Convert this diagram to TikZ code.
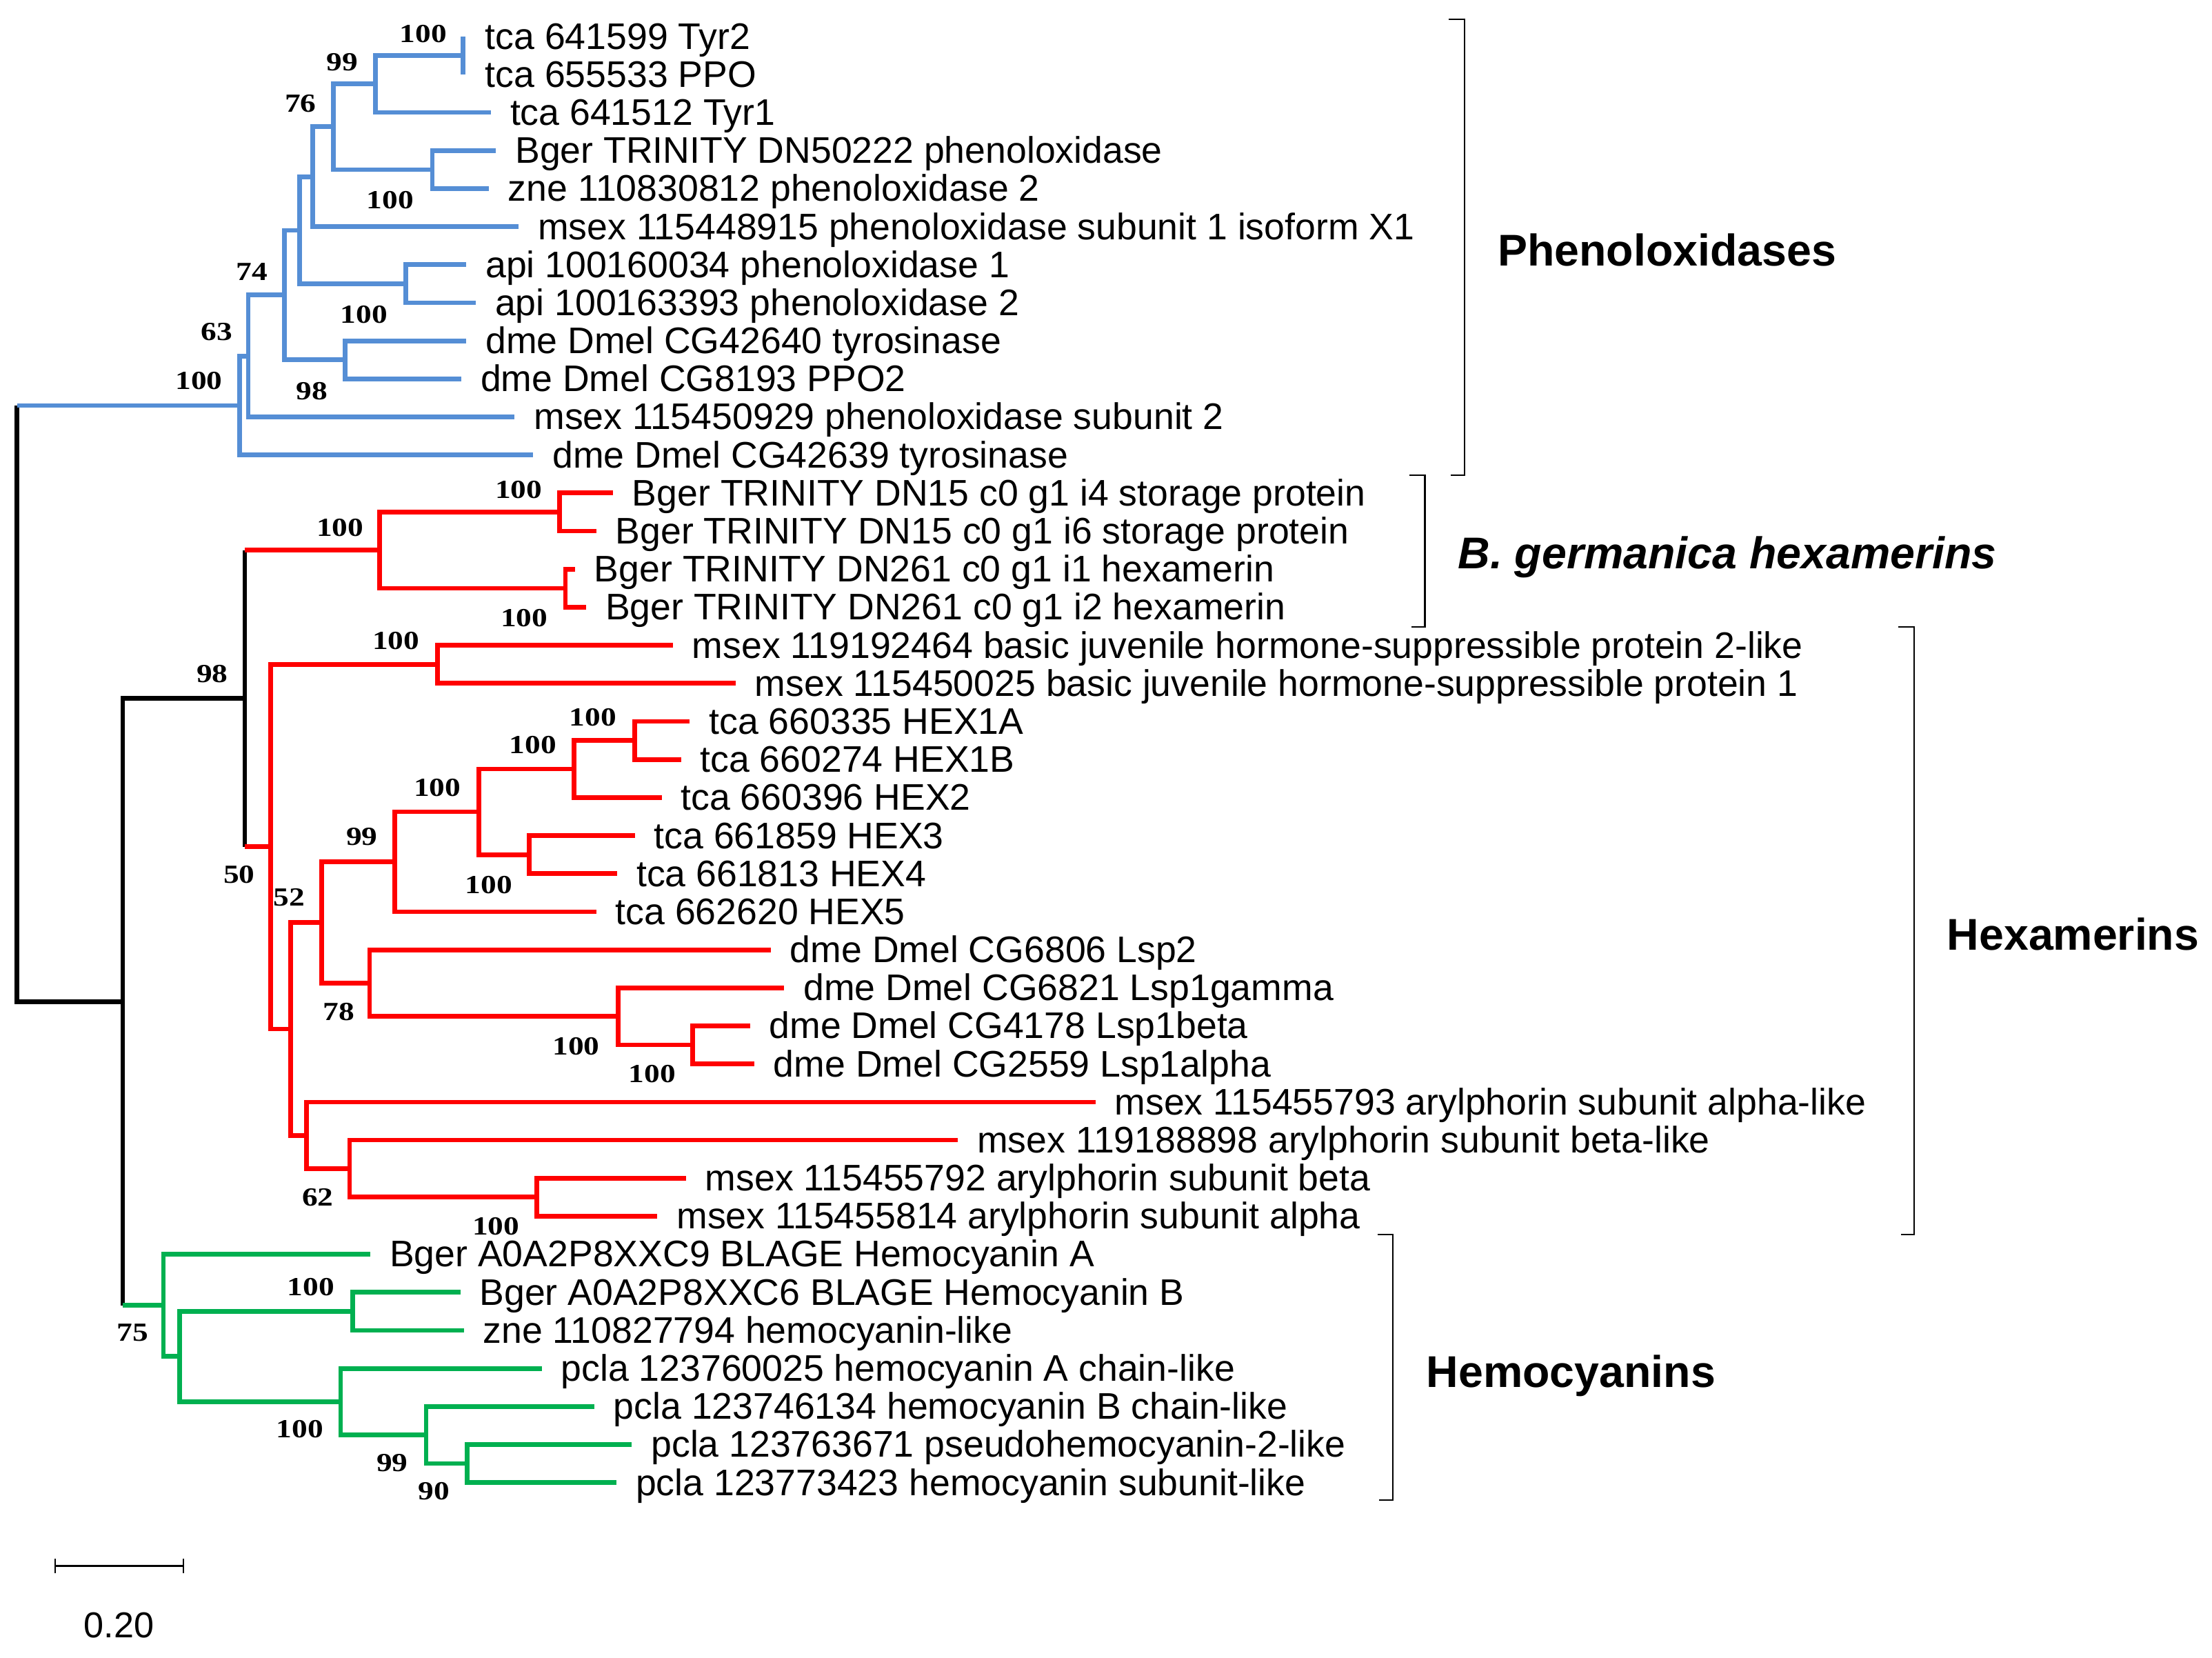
\documentclass[tikz,border=0pt]{standalone}
\usepackage{fontspec}
\setmainfont{Liberation Sans}
\newfontfamily\bsfont[FakeStretch=1.2]{Liberation Serif}
\definecolor{tblue}{RGB}{85,142,213}
\definecolor{tred}{RGB}{255,0,0}
\definecolor{tgreen}{RGB}{0,176,80}
\begin{document}
\begin{tikzpicture}[x=1pt,y=-1pt,
  br/.style={line width=3.3pt, line join=miter, line cap=butt},
  bb/.style={br,draw=tblue}, rb/.style={br,draw=tred}, gb/.style={br,draw=tgreen}, kb/.style={br,draw=black},
  lbl/.style={anchor=base west, inner sep=0pt, xshift=13.5pt, yshift=-9pt, font=\fontsize{26.2}{30}\selectfont},
  bs/.style={inner sep=0pt, font=\bsfont\bfseries\fontsize{18.5}{20}\selectfont},
  grp/.style={anchor=base west, inner sep=0pt, font=\bfseries\fontsize{31.5}{36}\selectfont},
  brk/.style={line width=1.1pt, line join=miter}]
\useasboundingbox (0,0) rectangle (1568,1175);

% ---------- tips ----------
\coordinate (t1) at (328.3,25.8);
\coordinate (t2) at (328.3,52.8);
\coordinate (t3) at (348,79.7);
\coordinate (t4) at (351.6,106.7);
\coordinate (t5) at (346.5,133.7);
\coordinate (t6) at (367.6,160.7);
\coordinate (t7) at (330.5,187.6);
\coordinate (t8) at (337.3,214.6);
\coordinate (t9) at (330.5,241.6);
\coordinate (t10) at (327,268.5);
\coordinate (t11) at (364.8,295.5);
\coordinate (t12) at (378,322.5);
\coordinate (t13) at (434.5,349.4);
\coordinate (t14) at (422.7,376.4);
\coordinate (t15) at (407.6,403.4);
\coordinate (t16) at (415.5,430.4);
\coordinate (t17) at (477,457.3);
\coordinate (t18) at (521.5,484.3);
\coordinate (t19) at (489,511.3);
\coordinate (t20) at (482.7,538.2);
\coordinate (t21) at (469,565.2);
\coordinate (t22) at (450,592.2);
\coordinate (t23) at (437.5,619.1);
\coordinate (t24) at (422.6,646.1);
\coordinate (t25) at (546.4,673.1);
\coordinate (t26) at (555.9,700.1);
\coordinate (t27) at (531.6,727.0);
\coordinate (t28) at (534.7,754.0);
\coordinate (t29) at (776.5,781.0);
\coordinate (t30) at (679,807.9);
\coordinate (t31) at (486.3,834.9);
\coordinate (t32) at (466,861.9);
\coordinate (t33) at (262.5,888.8);
\coordinate (t34) at (326.3,915.8);
\coordinate (t35) at (328.8,942.8);
\coordinate (t36) at (384,969.8);
\coordinate (t37) at (421.3,996.7);
\coordinate (t38) at (447.9,1023.7);
\coordinate (t39) at (437,1050.7);

% ---------- internal nodes ----------
\coordinate (nA) at (328.3,39.3);
\coordinate (nB) at (266,59.5);
\coordinate (nC) at (306.4,120.2);
\coordinate (nD) at (236.5,89.85);
\coordinate (nE) at (221.7,125.3);
\coordinate (nF) at (287.6,201.1);
\coordinate (nG) at (212.4,163.2);
\coordinate (nH) at (244.7,255.05);
\coordinate (nI) at (201.5,209.1);
\coordinate (nJ) at (176,252.3);
\coordinate (nK) at (170,287.4);
\coordinate (nL) at (396.5,362.9);
\coordinate (nM) at (400.8,416.9);
\coordinate (nN) at (269,389.9);
\coordinate (nO) at (310,470.8);
\coordinate (nP) at (450,524.75);
\coordinate (nQ) at (407,545);
\coordinate (nR) at (375.2,605.65);
\coordinate (nS) at (339.3,575.3);
\coordinate (nT) at (280,610.7);
\coordinate (nU) at (491,740.5);
\coordinate (nV) at (438,720.3);
\coordinate (nW) at (262,696.7);
\coordinate (nX) at (228,653.7);
\coordinate (nY) at (380.4,848.4);
\coordinate (nZ) at (247.8,828.2);
\coordinate (nAA) at (217.4,804.6);
\coordinate (nAB) at (206,729.2);
\coordinate (nAC) at (192,600);
\coordinate (nAD) at (173.5,494.95);
\coordinate (nAE) at (250,929.3);
\coordinate (nAF) at (331,1037.2);
\coordinate (nAG) at (302,1016.95);
\coordinate (nAH) at (241.5,993.4);
\coordinate (nAI) at (127.4,961.35);
\coordinate (nAJ) at (115.8,925.1);
\coordinate (nAK) at (87,710);
\coordinate (root) at (12,498.7);

% ---------- blue clade ----------
\draw[bb] (nA) -- (t1);
\draw[bb] (nA) -- (t2);
\draw[bb] (nB) |- (nA);
\draw[bb] (nB) |- (t3);
\draw[bb] (nC) |- (t4);
\draw[bb] (nC) |- (t5);
\draw[bb] (nD) |- (nB);
\draw[bb] (nD) |- (nC);
\draw[bb] (nE) |- (nD);
\draw[bb] (nE) |- (t6);
\draw[bb] (nF) |- (t7);
\draw[bb] (nF) |- (t8);
\draw[bb] (nG) |- (nE);
\draw[bb] (nG) |- (nF);
\draw[bb] (nH) |- (t9);
\draw[bb] (nH) |- (t10);
\draw[bb] (nI) |- (nG);
\draw[bb] (nI) |- (nH);
\draw[bb] (nJ) |- (nI);
\draw[bb] (nJ) |- (t11);
\draw[bb] (nK) |- (nJ);
\draw[bb] (nK) |- (t12);

% ---------- red clade ----------
\draw[rb] (nL) |- (t13);
\draw[rb] (nL) |- (t14);
\draw[rb] (nM) |- (t15);
\draw[rb] (nM) |- (t16);
\draw[rb] (nN) |- (nL);
\draw[rb] (nN) |- (nM);
\draw[rb] (nO) |- (t17);
\draw[rb] (nO) |- (t18);
\draw[rb] (nP) |- (t19);
\draw[rb] (nP) |- (t20);
\draw[rb] (nQ) |- (nP);
\draw[rb] (nQ) |- (t21);
\draw[rb] (nR) |- (t22);
\draw[rb] (nR) |- (t23);
\draw[rb] (nS) |- (nQ);
\draw[rb] (nS) |- (nR);
\draw[rb] (nT) |- (nS);
\draw[rb] (nT) |- (t24);
\draw[rb] (nU) |- (t27);
\draw[rb] (nU) |- (t28);
\draw[rb] (nV) |- (t26);
\draw[rb] (nV) |- (nU);
\draw[rb] (nW) |- (t25);
\draw[rb] (nW) |- (nV);
\draw[rb] (nX) |- (nT);
\draw[rb] (nX) |- (nW);
\draw[rb] (nY) |- (t31);
\draw[rb] (nY) |- (t32);
\draw[rb] (nZ) |- (t30);
\draw[rb] (nZ) |- (nY);
\draw[rb] (nAA) |- (t29);
\draw[rb] (nAA) |- (nZ);
\draw[rb] (nAB) |- (nX);
\draw[rb] (nAB) |- (nAA);
\draw[rb] (nAC) |- (nO);
\draw[rb] (nAC) |- (nAB);

% ---------- green clade ----------
\draw[gb] (nAE) |- (t34);
\draw[gb] (nAE) |- (t35);
\draw[gb] (nAF) |- (t38);
\draw[gb] (nAF) |- (t39);
\draw[gb] (nAG) |- (t37);
\draw[gb] (nAG) |- (nAF);
\draw[gb] (nAH) |- (t36);
\draw[gb] (nAH) |- (nAG);
\draw[gb] (nAI) |- (nAE);
\draw[gb] (nAI) |- (nAH);
\draw[gb] (nAJ) |- (t33);
\draw[gb] (nAJ) |- (nAI);

% ---------- backbone (black) ----------
\draw[kb] (nAD) -- (nAD |- nN);
\draw[rb] (nAD |- nN) -- (nN);
\draw[kb] (nAD) -- (nAD |- nAC);
\draw[rb] (nAD |- nAC) -- (nAC);
\draw[kb] (nAK) |- (nAD);
\draw[kb] (nAK) -- (nAK |- nAJ);
\draw[gb] (nAK |- nAJ) -- (nAJ);
\draw[kb] (root) -- (root |- nK);
\draw[bb] (root |- nK) -- (nK);
\draw[kb] (root) |- (nAK);

% ---------- tip labels ----------
\node[lbl] (L1) at ([xshift=2pt]t1) {tca 641599 Tyr2};
\node[lbl] (L2) at ([xshift=2pt]t2) {tca 655533 PPO};
\node[lbl] (L3) at (t3) {tca 641512 Tyr1};
\node[lbl] (L4) at (t4) {Bger TRINITY DN50222 phenoloxidase};
\node[lbl] (L5) at (t5) {zne 110830812 phenoloxidase 2};
\node[lbl] (L6) at (t6) {msex 115448915 phenoloxidase subunit 1 isoform X1};
\node[lbl] (L7) at (t7) {api 100160034 phenoloxidase 1};
\node[lbl] (L8) at (t8) {api 100163393 phenoloxidase 2};
\node[lbl] (L9) at (t9) {dme Dmel CG42640 tyrosinase};
\node[lbl] (L10) at (t10) {dme Dmel CG8193 PPO2};
\node[lbl] (L11) at (t11) {msex 115450929 phenoloxidase subunit 2};
\node[lbl] (L12) at (t12) {dme Dmel CG42639 tyrosinase};
\node[lbl] (L13) at (t13) {Bger TRINITY DN15 c0 g1 i4 storage protein};
\node[lbl] (L14) at (t14) {Bger TRINITY DN15 c0 g1 i6 storage protein};
\node[lbl] (L15) at (t15) {Bger TRINITY DN261 c0 g1 i1 hexamerin};
\node[lbl] (L16) at (t16) {Bger TRINITY DN261 c0 g1 i2 hexamerin};
\node[lbl] (L17) at (t17) {msex 119192464 basic juvenile hormone-suppressible protein 2-like};
\node[lbl] (L18) at (t18) {msex 115450025 basic juvenile hormone-suppressible protein 1};
\node[lbl] (L19) at (t19) {tca 660335 HEX1A};
\node[lbl] (L20) at (t20) {tca 660274 HEX1B};
\node[lbl] (L21) at (t21) {tca 660396 HEX2};
\node[lbl] (L22) at (t22) {tca 661859 HEX3};
\node[lbl] (L23) at (t23) {tca 661813 HEX4};
\node[lbl] (L24) at (t24) {tca 662620 HEX5};
\node[lbl] (L25) at (t25) {dme Dmel CG6806 Lsp2};
\node[lbl] (L26) at (t26) {dme Dmel CG6821 Lsp1gamma};
\node[lbl] (L27) at (t27) {dme Dmel CG4178 Lsp1beta};
\node[lbl] (L28) at (t28) {dme Dmel CG2559 Lsp1alpha};
\node[lbl] (L29) at (t29) {msex 115455793 arylphorin subunit alpha-like};
\node[lbl] (L30) at (t30) {msex 119188898 arylphorin subunit beta-like};
\node[lbl] (L31) at (t31) {msex 115455792 arylphorin subunit beta};
\node[lbl] (L32) at (t32) {msex 115455814 arylphorin subunit alpha};
\node[lbl] (L33) at (t33) {Bger A0A2P8XXC9 BLAGE Hemocyanin A};
\node[lbl] (L34) at (t34) {Bger A0A2P8XXC6 BLAGE Hemocyanin B};
\node[lbl] (L35) at (t35) {zne 110827794 hemocyanin-like};
\node[lbl] (L36) at (t36) {pcla 123760025 hemocyanin A chain-like};
\node[lbl] (L37) at (t37) {pcla 123746134 hemocyanin B chain-like};
\node[lbl] (L38) at (t38) {pcla 123763671 pseudohemocyanin-2-like};
\node[lbl] (L39) at (t39) {pcla 123773423 hemocyanin subunit-like};

% ---------- bootstrap values ----------
\node[bs] (bA) at (300,24) {100};
\node[bs] (bB) at (242.5,44) {99};
\node[bs] (bD) at (213,73.5) {76};
\node[bs] (bC) at (276.5,142) {100};
\node[bs] (bI) at (178.5,192.5) {74};
\node[bs] (bF) at (258,223) {100};
\node[bs] (bJ) at (153.5,235) {63};
\node[bs] (bH) at (221,277) {98};
\node[bs] (bK) at (141,270) {100};
\node[bs] (bL) at (367.6,347) {100};
\node[bs] (bN) at (241,374) {100};
\node[bs] (bM) at (371.5,438) {100};
\node[bs] (bO) at (280.6,454) {100};
\node[bs] (bAD) at (150.5,477.5) {98};
\node[bs] (bP) at (420.3,508.3) {100};
\node[bs] (bQ) at (377.7,528) {100};
\node[bs] (bS) at (310,558) {100};
\node[bs] (bT) at (256.6,593) {99};
\node[bs] (bR) at (346.5,627) {100};
\node[bs] (bAC) at (169.5,620) {50};
\node[bs] (bX) at (205,636) {52};
\node[bs] (bW) at (240,717) {78};
\node[bs] (bV) at (408.4,741.3) {100};
\node[bs] (bU) at (462.4,761) {100};
\node[bs] (bZ) at (225.3,848.5) {62};
\node[bs] (bY) at (351.5,869) {100};
\node[bs] (bAJ) at (94,944.6) {75};
\node[bs] (bAE) at (220.3,912) {100};
\node[bs] (bAH) at (212.5,1013) {100};
\node[bs] (bAG) at (278,1037) {99};
\node[bs] (bAF) at (307.6,1057) {90};

% ---------- group brackets ----------
\coordinate (p1) at (1027,13.8);
\coordinate (p2) at (1038.2,13.8);
\coordinate (p3) at (1038.2,336.8);
\coordinate (p4) at (1028.3,336.8);
\draw[brk] (p1) -- (p2) -- (p3) -- (p4);
\coordinate (g1) at (999.2,336.8);
\coordinate (g2) at (1010,336.8);
\coordinate (g3) at (1010,444.2);
\coordinate (g4) at (1000.3,444.2);
\draw[brk] (g1) -- (g2) -- (g3) -- (g4);
\coordinate (h1) at (1345.8,444.3);
\coordinate (h2) at (1357,444.3);
\coordinate (h3) at (1357,874.9);
\coordinate (h4) at (1347.7,874.9);
\draw[brk] (h1) -- (h2) -- (h3) -- (h4);
\coordinate (c1) at (976.5,874.9);
\coordinate (c2) at (987.5,874.9);
\coordinate (c3) at (987.5,1063.2);
\coordinate (c4) at (977.5,1063.2);
\draw[brk] (c1) -- (c2) -- (c3) -- (c4);

\node[grp] (G1) at (1061.5,188.5) {Phenoloxidases};
\node[grp, font=\bfseries\itshape\fontsize{31.5}{36}\selectfont] (G2) at (1033.4,403.2) {B. germanica hexamerins};
\node[grp] (G3) at (1380,673.3) {Hexamerins};
\node[grp] (G4) at (1011,983.3) {Hemocyanins};

% ---------- scale bar ----------
\coordinate (s1) at (39.1,1109.8);
\coordinate (s2) at (129.9,1109.8);
\draw[line width=1.1pt] (s1) -- (s2);
\draw[line width=1.1pt] ([yshift=5pt]s1) -- ([yshift=-5pt]s1);
\draw[line width=1.1pt] ([yshift=5pt]s2) -- ([yshift=-5pt]s2);
\node[inner sep=0pt, font=\fontsize{25.5}{30}\selectfont] (sl) at (84.2,1151.8) {0.20};
\end{tikzpicture}
\end{document}
